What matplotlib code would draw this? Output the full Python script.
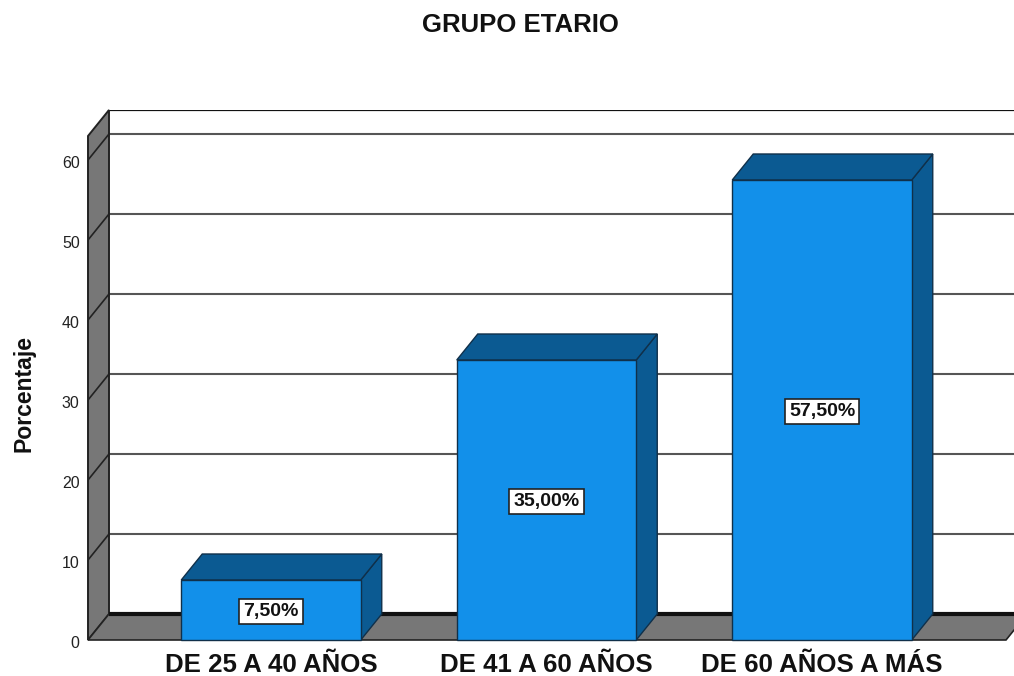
import matplotlib
matplotlib.use('Agg')
import matplotlib.pyplot as plt
from matplotlib.patches import Polygon
from matplotlib.transforms import ScaledTranslation

plt.rcParams['font.family'] = ['Liberation Sans', 'DejaVu Sans']

categorias = ['DE 25 A 40 AÑOS', 'DE 41 A 60 AÑOS', 'DE 60 AÑOS A MÁS']
porcentajes = [7.5, 35.0, 57.5]
etiquetas = ['7,50%', '35,00%', '57,50%']
ticks_y = [0, 10, 20, 30, 40, 50, 60]

W, H = 1014, 676
AZUL = '#1290ea'
AZUL_OSC = '#0b5a92'
GRIS = '#777777'
BORDE = '#10304a'

fig = plt.figure(figsize=(W / 100, H / 100), dpi=100)
# eje en pixeles: y=0 en 640, y=60 en 160; categorias separadas 275.5 px
ax = fig.add_axes([88 / W, (H - 640) / H, (W - 88) / W, (640 - 110) / H])
esc_x = 275.5
x_min = (88 - 271) / esc_x
x_max = (W - 271) / esc_x
ax.set_xlim(x_min, x_max)
ax.set_ylim(0, 530 / 8)
for s in ax.spines.values():
    s.set_visible(False)

dx = 21 / esc_x
dy = 26 / 8
ancho = 179.5 / esc_x
y_top = 63.0


def poly(pts, color, edge='#222222', lw=1.0, z=2):
    ax.add_patch(Polygon(pts, closed=True, facecolor=color, edgecolor=edge, linewidth=lw,
                         zorder=z, clip_on=False))


# pared lateral y piso
poly([(x_min, 0), (x_min + dx, dy), (x_min + dx, y_top + dy), (x_min, y_top)], GRIS, lw=1.4, z=2)
poly([(x_min, 0), (x_min + dx, dy), (x_max - 8 / esc_x + dx, dy), (x_max - 8 / esc_x, 0)], GRIS, lw=1.2, z=2)

# lineas de la pared del fondo
ax.plot([x_min + dx, x_max], [y_top + dy, y_top + dy], color='#111111', lw=1.6, zorder=1)
for t in ticks_y:
    lw = 3.0 if t == 0 else 1.5
    col = '#111111' if t == 0 else '#555555'
    ax.plot([x_min + dx, x_max], [t + dy, t + dy], color=col, lw=lw, zorder=3 if t == 0 else 1,
            solid_capstyle='butt')
    if t > 0:
        ax.plot([x_min, x_min + dx], [t, t + dy], color='#222222', lw=1.2, zorder=3)

# barras 3d
for i, v in enumerate(porcentajes):
    x0 = i - ancho / 2
    x1 = i + ancho / 2
    poly([(x1, 0), (x1 + dx, dy), (x1 + dx, v + dy), (x1, v)], AZUL_OSC, edge=BORDE, z=4)
    poly([(x0, v), (x0 + dx, v + dy), (x1 + dx, v + dy), (x1, v)], AZUL_OSC, edge=BORDE, z=4)
    ax.bar(i, v, width=ancho, color=AZUL, edgecolor=BORDE, linewidth=1.0, zorder=5, clip_on=False)
    ax.text(i, v / 2 - 0.2, etiquetas[i], ha='center', va='center', fontsize=14, fontweight='bold',
            color='#111111', zorder=6,
            bbox=dict(boxstyle='square,pad=0.22', facecolor='white', edgecolor='#222222', linewidth=1.2))

ax.set_xticks(range(len(categorias)))
ax.set_xticklabels(categorias, fontsize=18.6, color='#111111')
ax.set_yticks(ticks_y)
ax.set_yticklabels([str(t) for t in ticks_y], fontsize=11.5, color='#222222')
ax.tick_params(axis='x', length=0, pad=9)
ax.tick_params(axis='y', length=0, pad=6)
for lab in ax.get_xticklabels():
    lab.set_fontweight('bold')
# las etiquetas de y van 2 px mas abajo que el valor
baja = ScaledTranslation(0, -2 / 100, fig.dpi_scale_trans)
for lab in ax.get_yticklabels():
    lab.set_transform(lab.get_transform() + baja)

fig.text(520 / W, 1 - 25 / H, 'GRUPO ETARIO', ha='center', va='center', fontsize=18.5, color='#111111',
         fontweight='bold')
fig.text(24 / W, 1 - 394 / H, 'Porcentaje', rotation=90, ha='center', va='center', fontsize=16.6,
         fontweight='bold', color='#111111')

fig.savefig('out.png', dpi=100)
